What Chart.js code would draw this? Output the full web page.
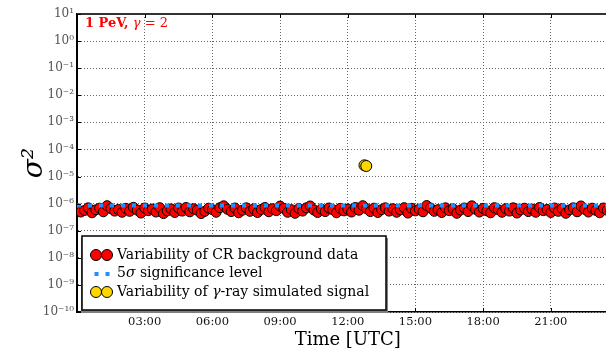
<!DOCTYPE html>
<html>
<head>
<meta charset="utf-8">
<script src="https://cdn.jsdelivr.net/npm/chart.js@4.4.0/dist/chart.umd.min.js"></script>
<style>
  html, body { margin: 0; padding: 0; overflow: hidden; background: #fff; }
  canvas { display: block; }
</style>
</head>
<body>
<canvas id="sigmaChart" width="625" height="355"></canvas>
<script>
// CR background variability, one value per 10-minute bin (units of 1e-7)
const binMinutes = 10;
const crUnit = 1e-7;
const crVariability = [
  6.4, 4.9, 5.6, 7.0, 4.6, 5.9, 6.8, 5.0, 8.4, 6.6, 5.3, 6.1,
  4.8, 6.7, 5.2, 7.3, 5.8, 4.5, 6.9, 5.5, 6.3, 4.9, 7.1, 4.3,
  5.4, 6.4, 4.7, 6.9, 5.3, 7.2, 5.0, 6.5, 5.7, 4.3, 5.2, 6.8,
  6.0, 4.8, 7.1, 8.3, 6.2, 5.1, 6.9, 4.6, 5.7, 7.0, 5.2, 6.4,
  4.7, 6.1, 7.2, 5.0, 6.5, 5.5, 8.1, 6.7, 4.8, 6.0, 4.4, 6.6,
  5.3, 7.0, 8.2, 5.8, 4.7, 6.3, 5.1, 6.9, 6.0, 4.6, 6.7, 5.4,
  6.3, 4.9, 7.2, 5.7, 8.4, 6.5, 5.1, 6.8, 4.7, 6.0, 7.0, 5.3,
  6.5, 4.8, 5.9, 7.1, 4.5, 6.7, 5.4, 6.2, 5.0, 8.5, 6.9, 5.2,
  6.0, 4.7, 7.0, 5.5, 6.4, 4.4, 5.8, 6.9, 5.1, 8.3, 6.2, 4.9,
  6.7, 5.4, 4.6, 7.1, 6.0, 4.8, 6.5, 5.3, 7.0, 4.5, 5.9, 6.8,
  5.1, 6.3, 4.8, 7.2, 5.5, 6.1, 4.7, 6.9, 5.2, 6.6, 4.4, 5.9,
  7.0, 5.0, 8.2, 6.2, 4.9, 6.8, 5.6, 4.6, 6.9, 5.7, 5.2, 6.3
];
// 5 sigma significance level
const sigmaLevel = 8.5e-7;
// simulated gamma-ray signal (hours UTC, variability)
const signalTimes = [12.74, 12.82];
const signalValues = [2.6e-5, 2.45e-5];

const xTickHours = [3, 6, 9, 12, 15, 18, 21];
const yTickExponents = [1, 0, -1, -2, -3, -4, -5, -6, -7, -8, -9, -10];

const serif = "'DejaVu Serif', serif";
const supMap = { '0': '⁰', '1': '¹', '2': '²', '3': '³', '4': '⁴', '5': '⁵', '6': '⁶', '7': '⁷', '8': '⁸', '9': '⁹', '-': '⁻' };
const sup = s => String(s).split('').map(c => supMap[c]).join('');

const crPoints = crVariability.map((v, i) => ({ x: i * binMinutes / 60, y: v * crUnit }));
const sigmaPoints = [{ x: 0, y: sigmaLevel }, { x: 24, y: sigmaLevel }];
const signalPoints = signalTimes.map((t, i) => ({ x: t, y: signalValues[i] }));

// draws a row of text made of [text, style] runs
function drawRuns(ctx, runs, x, y, size, color) {
  ctx.fillStyle = color;
  ctx.textBaseline = 'middle';
  ctx.textAlign = 'left';
  runs.forEach(([txt, style]) => {
    ctx.font = (style === 'normal' ? '' : style + ' ') + size + 'px ' + serif;
    ctx.fillText(txt, x, y);
    x += ctx.measureText(txt).width;
  });
}

const legendRows = [
  { kind: 'circle', fill: '#ff0000', runs: [['Variability of CR background data', 'normal']] },
  { kind: 'dots', fill: '#1e90ff', runs: [['5', 'normal'], ['σ', 'italic'], [' significance level', 'normal']] },
  { kind: 'circle', fill: '#ffd700', runs: [['Variability of ', 'normal'], ['γ', 'italic'], ['-ray simulated signal', 'normal']] }
];

const frame = {
  id: 'frame',
  afterDraw(chart) {
    const ctx = chart.ctx;
    const a = chart.chartArea;
    const xs = chart.scales.x, ys = chart.scales.y;
    const seg = (x1, y1, x2, y2) => { ctx.beginPath(); ctx.moveTo(x1, y1); ctx.lineTo(x2, y2); ctx.stroke(); };
    ctx.save();

    // top spine
    ctx.strokeStyle = '#333';
    ctx.lineWidth = 2;
    seg(a.left, a.top, a.right, a.top);

    // inward tick marks
    ctx.strokeStyle = '#000';
    ctx.lineWidth = 1;
    xTickHours.forEach(h => {
      const px = Math.round(xs.getPixelForValue(h)) + 0.5;
      seg(px, a.bottom, px, a.bottom - 4);
      seg(px, a.top, px, a.top + 4);
    });
    yTickExponents.forEach(e => {
      const py = Math.round(ys.getPixelForValue(Math.pow(10, e))) + 0.5;
      seg(a.left, py, a.left + 4, py);
    });

    // energy / index label
    drawRuns(ctx, [['1 PeV,', 'bold'], [' γ', 'italic'], [' = 2', 'normal']], a.left + 8, a.top + 10, 13, '#ff0000');

    // legend box with shadow
    const bx = a.left + 5, by = a.bottom - 76, bw = 304, bh = 74;
    ctx.fillStyle = '#808080';
    ctx.fillRect(bx - 1, by + 2, bw + 3, bh + 1);
    ctx.fillStyle = '#fff';
    ctx.fillRect(bx, by, bw, bh);
    ctx.strokeStyle = '#000';
    ctx.lineWidth = 1.5;
    ctx.strokeRect(bx, by, bw, bh);

    legendRows.forEach((row, i) => {
      const ry = by + 19 + i * 18.5;
      [bx + 14, bx + 25].forEach(mx => {
        if (row.kind === 'circle') {
          ctx.beginPath();
          ctx.arc(mx, ry, 5.5, 0, Math.PI * 2);
          ctx.fillStyle = row.fill;
          ctx.fill();
          ctx.lineWidth = 1;
          ctx.strokeStyle = '#000';
          ctx.stroke();
        } else {
          ctx.fillStyle = row.fill;
          ctx.fillRect(mx - 1.5, ry - 1.5, 4, 4);
        }
      });
      drawRuns(ctx, row.runs, bx + 35, ry, 14, '#000');
    });
    ctx.restore();
  }
};

new Chart(document.getElementById('sigmaChart').getContext('2d'), {
  type: 'scatter',
  data: {
    datasets: [
      {
        label: 'Variability of CR background data',
        data: crPoints,
        order: 3,
        pointRadius: 5,
        pointBackgroundColor: '#ff0000',
        pointBorderColor: '#000',
        pointBorderWidth: 1
      },
      {
        label: '5σ significance level',
        data: sigmaPoints,
        order: 2,
        showLine: true,
        pointRadius: 0,
        borderColor: '#1e90ff',
        borderWidth: 4,
        borderDash: [4, 7]
      },
      {
        label: 'Variability of γ-ray simulated signal',
        data: signalPoints,
        order: 1,
        pointRadius: 5.5,
        pointBackgroundColor: '#ffd700',
        pointBorderColor: '#000',
        pointBorderWidth: 1
      }
    ]
  },
  options: {
    responsive: false,
    devicePixelRatio: 1,
    animation: false,
    layout: { padding: { top: 14, right: 4, left: 0, bottom: 0 } },
    plugins: { legend: { display: false }, tooltip: { enabled: false } },
    scales: {
      x: {
        type: 'linear',
        min: 0,
        max: 24,
        afterBuildTicks: s => { s.ticks = xTickHours.map(v => ({ value: v })); },
        afterFit: s => { s.height = 43; },
        ticks: {
          callback: v => String(v).padStart(2, '0') + ':00',
          font: { family: serif, size: 11.5 },
          color: '#111',
          padding: 3,
          maxRotation: 0
        },
        grid: { color: '#666', lineWidth: 1, drawTicks: false },
        border: { color: '#000', width: 1.5, dash: [1, 2] },
        title: {
          display: true,
          text: 'Time [UTC]',
          font: { family: serif, size: 18 },
          color: '#000',
          padding: { top: 0, bottom: 4 }
        }
      },
      y: {
        type: 'logarithmic',
        min: 1e-10,
        max: 10,
        afterBuildTicks: s => { s.ticks = yTickExponents.map(e => ({ value: Math.pow(10, e) })); },
        afterFit: s => { s.width = 77; },
        ticks: {
          callback: v => '10' + sup(Math.round(Math.log10(v))),
          font: { family: serif, size: 12 },
          color: '#555',
          padding: 3
        },
        grid: { color: '#666', lineWidth: 1, drawTicks: false },
        border: { color: '#000', width: 2, dash: [1, 2] },
        title: {
          display: true,
          text: 'σ²',
          font: { family: serif, size: 28, style: 'italic' },
          color: '#000',
          padding: { top: 18, bottom: 0 }
        }
      }
    }
  },
  plugins: [frame]
});
</script>
</body>
</html>
